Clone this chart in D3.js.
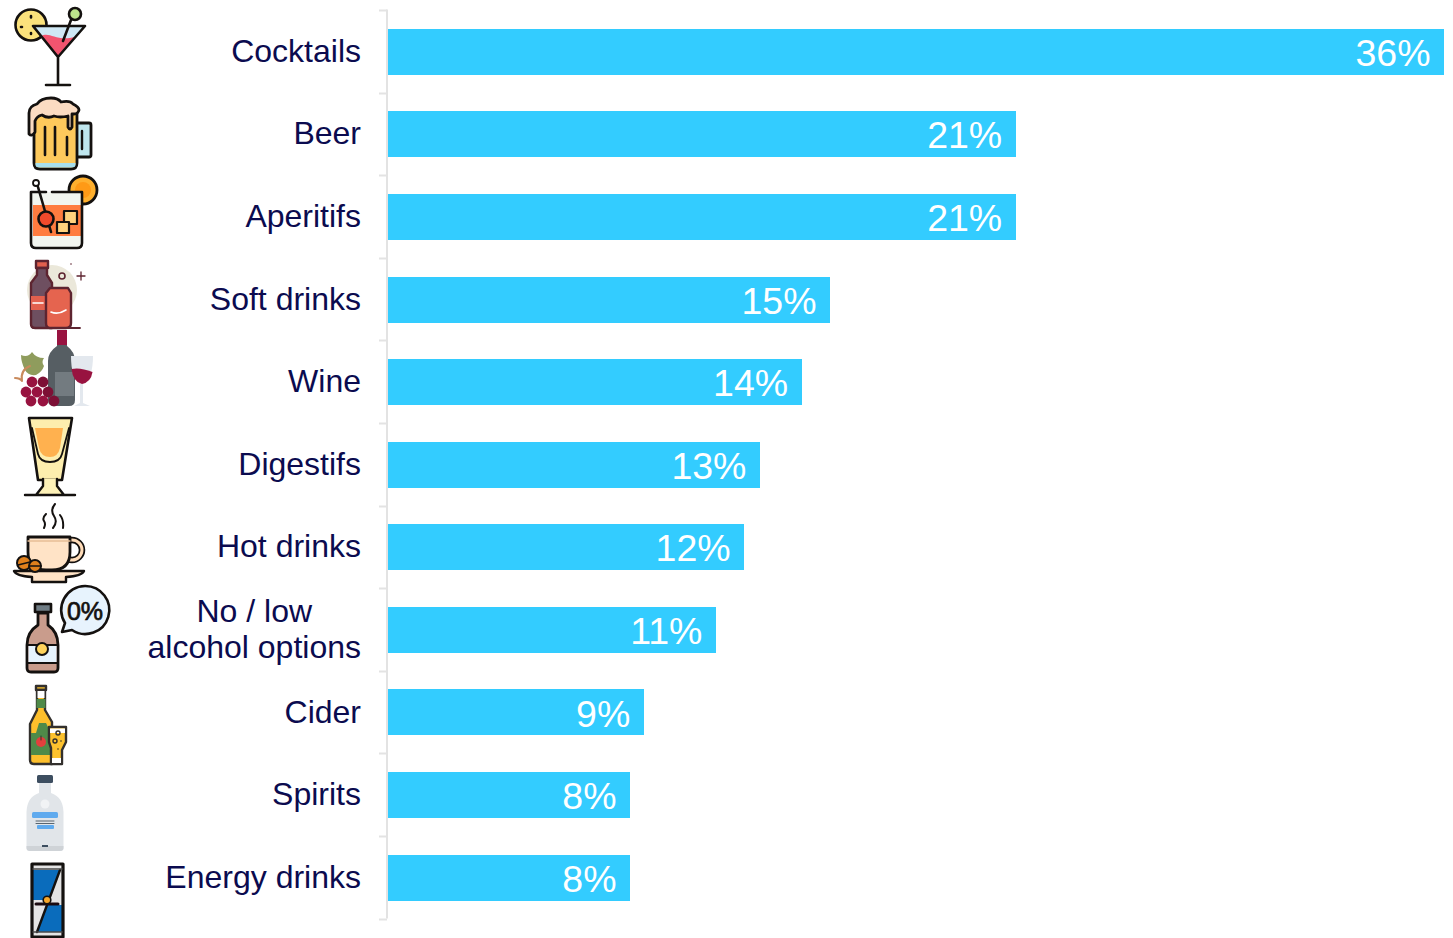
<!DOCTYPE html>
<html>
<head>
<meta charset="utf-8">
<title>Drinks ordered</title>
<script src="https://cdnjs.cloudflare.com/ajax/libs/d3/7.8.5/d3.min.js"></script>
<style>
html,body{margin:0;padding:0;background:#fff;}
svg{display:block;}
text{font-family:"Liberation Sans",Arial,sans-serif;}
</style>
</head>
<body>
<svg id="chart" width="1453" height="938"></svg>
<script>
// Share of respondents per drink type; labels show the rounded figure.
const categories = ["Cocktails","Beer","Aperitifs","Soft drinks","Wine","Digestifs","Hot drinks","No / low\nalcohol options","Cider","Spirits","Energy drinks"];
const shares = [36.0,21.4,21.4,15.07,14.1,12.68,12.14,11.18,8.72,8.25,8.25];
const iconNames = ["cocktail","beer","aperitif","soft","wine","digestif","hot","zero","cider","spirit","energy"];

const svg = d3.select("#chart");
const barColor = "#33ccff", inkColor = "#0b0b4f", axisColor = "#e3e3e3";

const x = d3.scaleLinear().domain([0,36]).range([388,1444]);
const y = d3.scaleBand().domain(categories).range([10.6,919]).paddingInner(0.44).paddingOuter(0.22);
const step = y.step();

// Category axis: a plain line with ticks on the band boundaries.
const axisG = svg.append("g");
axisG.append("line").attr("x1",387).attr("x2",387).attr("y1",9.500).attr("y2",918.500)
  .attr("stroke",axisColor).attr("stroke-width",2);
axisG.selectAll(".tick").data(d3.range(categories.length+1)).join("line")
  .attr("x1",379).attr("x2",387)
  .attr("y1",i=>Math.floor(y.range()[0]+i*step)+0.5)
  .attr("y2",i=>Math.floor(y.range()[0]+i*step)+0.5)
  .attr("stroke",axisColor).attr("stroke-width",2);

// Bars
svg.append("g").selectAll("rect").data(categories).join("rect")
  .attr("x",x(0))
  .attr("y",d=>Math.round(y(d)))
  .attr("width",(d,i)=>x(shares[i])-x(0))
  .attr("height",d=>Math.round(y.bandwidth()))
  .attr("fill",barColor)
  .attr("shape-rendering","crispEdges");

// Value labels inside the bar ends
const pct = v=>d3.format(".0f")(v)+"%";
svg.append("g").selectAll("text").data(categories).join("text")
  .attr("x",(d,i)=>x(shares[i])-13.5)
  .attr("y",d=>y(d)+y.bandwidth()/2+14)
  .attr("text-anchor","end")
  .attr("font-size",37.5)
  .attr("fill","#fff")
  .text((d,i)=>pct(shares[i]));

// Category labels; wrapped labels centre their lines inside a right-aligned block.
const labelG = svg.append("g");
categories.forEach(c=>{
  const lines = c.split("\n");
  const cy = y(c)+y.bandwidth()/2;
  const t = labelG.append("text").attr("font-size",32).attr("fill",inkColor);
  if(lines.length===1){
    t.attr("x",361).attr("y",cy+10).attr("text-anchor","end").text(c);
  } else {
    const probe = labelG.append("text").attr("font-size",32).text(lines[1]);
    const w = probe.node().getComputedTextLength(); probe.remove();
    t.attr("text-anchor","middle");
    lines.forEach((l,k)=>t.append("tspan").attr("x",361-w/2).attr("y",cy+(k===0?-8:28)).text(l));
  }
});

// Pictograms in the left column, each in its own small drawing routine.
const K = "#14110f";
const P=(g,d,fill,sw=2.6,stroke=K)=>g.append("path").attr("d",d).attr("fill",fill||"none").attr("stroke",stroke).attr("stroke-width",sw).attr("stroke-linecap","round").attr("stroke-linejoin","round");
const F=(g,d,fill)=>g.append("path").attr("d",d).attr("fill",fill);
const C=(g,cx,cy,r,fill,sw=2.6,stroke=K)=>g.append("circle").attr("cx",cx).attr("cy",cy).attr("r",r).attr("fill",fill).attr("stroke",sw?stroke:"none").attr("stroke-width",sw);

const icons = {
  cocktail(g){
    C(g,31,25,15.5,"#fbe27c");
    P(g,"M31 16v1.500M22 27h-1M31 33v1");
    F(g,"M33 26H85L58 57Z","#cfe8f5");
    F(g,"M41 36C50 31 56 42 75 37L58 57Z","#f2546f");
    P(g,"M33 26H85L58 57ZM58 57V85M46 85H70");
    P(g,"M63 41L71 20");
    C(g,75,14,6,"#bde48c");
  },
  beer(g){
    P(g,"M77 123H89Q91 123 91 125V155Q91 157 89 157H77","#bfe6ee",2.8);
    P(g,"M82 131V149","none",2.4);
    P(g,"M34 125V163Q34 169 40 169H71Q77 169 77 163V112H34Z","#fdc95c",2.8);
    F(g,"M35.500 163H75.500V165Q75.500 167.500 71 167.500H40Q35.500 167.500 35.500 165Z","#a7dfee");
    P(g,"M45 127V155M55 127V155M67 137V155");
    P(g,"M29 134V113Q29 106 37 104Q41 98 51 98Q58 98 61 102Q70 100 73 104Q79 107 79 110Q78 114 74 114H72V127Q70 131 68 127V116Q60 118 54 116Q48 119 42 115Q37 116 35 121V132Q32 137 29 134Z","#fbdcc2",2.8);
  },
  aperitif(g){
    C(g,83,190,14,"#ffb02e",2.8);
    C(g,83,190,8,"#ff9a16",0);
    F(g,"M32 192H81V241Q81 248 76 248H37Q32 248 32 241Z","#f2f5ef");
    F(g,"M33 205H81V236H33Z","#ff7c3f");
    P(g,"M31 192V243Q31 248 36 248H77Q82 248 82 243V192M31 192H46M52 192H82",null,2.6);
    P(g,"M38 187L51 232");
    C(g,36,183,3,"#fff",1.8);
    C(g,46,219,7.5,"#f04a2c");
    P(g,"M64 211H77V224H64Z","#ffd27e",2.2);
    P(g,"M57 222H69V233H57Z","#ffd27e",2.2);
  },
  soft(g){
    C(g,52,290,25,"#ebe8da",0);
    const d="#5d2430";
    P(g,"M36 261H48V268H36Z","#e2604e",2.4,d);
    P(g,"M37 268V275L31 283V324Q31 328 35 328H52V283L47 275V268Z","#6e4f60",2.4,d);
    F(g,"M31 296H52V310H31Z","#e2604e");
    P(g,"M33 303H43",null,1.6,"#fff");
    P(g,"M50 288H68L71 293V323Q71 328 66 328H50Q46 328 46 323V293Z","#e5644f",2.4,d);
    P(g,"M51 312Q58 315 66 310",null,1.6,"#fff");
    P(g,"M33 328H80",null,1.8,d);
    C(g,62,276,3,"none",1.6,d);
    P(g,"M81 272V280M77 276H85",null,1.3,d);
    C(g,71,264,.8,d,0);
  },
  wine(g){
    F(g,"M57 330H67V346Q75 352 75 361V400Q75 406 69 406H54Q48 406 48 400V361Q48 352 57 346Z","#565e63");
    F(g,"M57 330H67V345H57Z","#981340");
    F(g,"M55 372H74V396H55Z","#737b80");
    F(g,"M71 356H93Q93 378 83 384V403L90 406H74L80 403V384Q71 378 71 356Z","#e3e8ee");
    F(g,"M71.500 369Q80 367 92.500 372Q91 382 82 384Q73 382 71.500 369Z","#981340");
    F(g,"M21 355Q28 358 32 352Q36 358 44 358Q41 362 44 366Q42 372 36 375Q28 376 25 370Q21 362 21 355Z","#8f9c5d");
    P(g,"M15 378Q20 378 22 381M30 366Q20 370 22 381",null,2,"#c98a5c");
    [[32,382],[43,382],[26,392],[37,392],[48,392],[31,401],[43,401],[54,401]].forEach((p,i)=>
      C(g,p[0],p[1],5.4,i%3===1?"#7d1035":"#981340",0));
  },
  digestif(g){
    P(g,"M29 418H72L62 480H38Z","#fdeeae",2.6);
    F(g,"M35 428H63L60 448Q58 457 50 457Q41 457 39 448Z","#ffb14f");
    P(g,"M32 428L38 454Q40 462 50 462Q60 462 62 454L69 428",null,1.8);
    P(g,"M43 479V486L36 495H64L57 486V479M25 495H75","#fdf1b7",2.4);
  },
  hot(g){
    P(g,"M46 514Q42 518 44 521Q46 524 44 528M55 504Q50 510 54 516Q58 522 53 528M60 515Q64 520 63 528",null,2);
    C(g,72,550,10,"none",6.5,K);
    C(g,72,550,10,"none",3,"#ffdcb8");
    P(g,"M28 537V552Q28 570 46 570H52Q70 570 70 552V537Z","#ffe3c6",2.8);
    P(g,"M28 541H70",null,1.4,"#e8bf96");
    P(g,"M14 571H84Q82 576 66 577V582H32V577Q16 576 14 571Z","#ffe3c6",2.4);
    C(g,24,563,7,"#e0801c",2);
    C(g,35,566,6,"#e0801c",2);
    P(g,"M18 565L30 562M30 566L41 566",null,1.4);
  },
  zero(g){
    P(g,"M38 613H48V625Q58 632 58 645V668Q58 672 54 672H31Q27 672 27 668V645Q27 632 38 625Z","#c99c8c",2.8);
    F(g,"M28.500 645H56.500V663H28.500Z","#e6f3fd");
    P(g,"M27 645H58M27 663H58",null,2);
    C(g,42,649,6,"#fdd25b",2);
    P(g,"M35 604H51V612H35Z","#6f7c84",2.6);
    P(g,"M85 586A24 24 0 1 1 72 630L62 632L65 623A24 24 0 0 1 85 586Z","#e7f3fd",2.6);
    g.append("text").attr("x",85).attr("y",619.500).attr("text-anchor","middle").attr("font-size",25)
      .attr("fill",K).attr("stroke",K).attr("stroke-width",0.7).text("0%");
  },
  cider(g){
    P(g,"M36 686H46V690H36Z","#fdc22e",2.4,"#33302d");
    P(g,"M37 690H45V710L52 722V764H34Q30 764 30 760V724L37 710Z","#fdbf2c",2.4,"#33302d");
    F(g,"M36.500 699H45.500V708H36.500Z","#4f8a49");
    F(g,"M37.500 691H44.500V698H37.500Z","#fff");
    F(g,"M31 733H36L39 723H46L51 733V755H31Z","#4f8a49");
    C(g,41,742,5,"#e23f3d",0);
    P(g,"M41 736V740",null,1,"#33302d");
    P(g,"M49 727H66V742L62 750V764H51V748L49 742Z","#fdc22e",2.4,"#33302d");
    F(g,"M50 728.500H65V733H50Z","#fff");
    F(g,"M52 758H61V763H52Z","#fff");
    C(g,58,733,2,"none",1.4,"#33302d");
    C(g,55,741,2,"none",1.4,"#33302d");
    C(g,61,741,.8,"#33302d",0);
    C(g,58,749,.8,"#33302d",0);
  },
  spirit(g){
    F(g,"M39 783H51V793Q63 797 63.500 812V848Q63.500 851 60 851H30Q26.500 851 26.500 848V812Q27 797 39 793Z","#e1e5e9");
    F(g,"M26.500 846H63.500V848Q63.500 851 60 851H30Q26.500 851 26.500 848Z","#cfd3d7");
    g.append("rect").attr("x",37).attr("y",775).attr("width",16).attr("height",8).attr("rx",1.5).attr("fill","#3d4e60");
    C(g,45,804,4.5,"#f1f3f5",0);
    g.append("rect").attr("x",32).attr("y",812).attr("width",26).attr("height",6).attr("rx",1.5).attr("fill","#5faaee");
    P(g,"M36 821H54",null,1,"#59656f");
    P(g,"M36 823.500H54",null,1,"#59656f");
    g.append("rect").attr("x",37).attr("y",825).attr("width",17).attr("height",4).attr("rx",1).attr("fill","#5faaee");
    g.append("rect").attr("x",42).attr("y",845).attr("width",6).attr("height",2).attr("fill","#3d4e60");
  },
  energy(g){
    g.append("rect").attr("x",32).attr("y",864).attr("width",31).attr("height",73).attr("rx",1.5).attr("fill","#e4e4e4");
    F(g,"M33 870H60L49 900H33Z","#0a6cbc");
    F(g,"M62 905V932H37L47 905Z","#0a6cbc");
    P(g,"M60 870L37 932",null,2.4);
    P(g,"M32 864H63V937H32Z",null,3.2);
    P(g,"M33 869H62M33 932H62",null,1.6,"#4a4a4a");
    P(g,"M36 904H58",null,3,"#1a0a10");
    C(g,47,900,3.8,"#f7a72a",1.6);
  }
};

const iconG = svg.append("g").attr("class","icons");
iconNames.forEach(n=>icons[n](iconG.append("g").attr("class","icon-"+n)));
</script>
</body>
</html>
